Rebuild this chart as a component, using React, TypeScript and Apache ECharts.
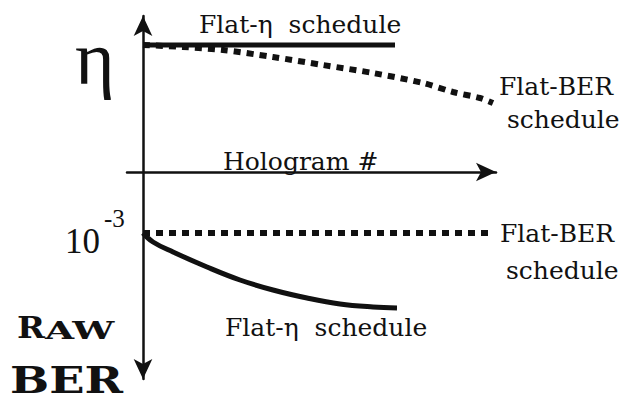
import React, { useEffect, useRef } from "react";
import * as echarts from "echarts";

// Schematic units: x = hologram index (arbitrary), y = eta above axis, raw BER below axis
const xRange = [-16, 353];
const yRange = [-207, 156];

const holoFlatEtaTop = [0, 252];
const etaFlatEta = [127, 127];

const holoFlatBerTop = [0, 40, 80, 130, 180, 230, 280, 310, 337, 350];
const etaFlatBer = [127, 125, 122, 115, 107, 99, 89, 80, 74, 69];

const holoFlatBerBottom = [0, 350];
const berFlatBer = [-61, -61];

const holoFlatEtaBottom = [0, 10, 30, 64, 97, 130, 164, 197, 230, 254];
const berFlatEta = [-61, -70, -80, -95, -108, -118, -126, -132, -135, -136];

const labelFlatEta = "Flat-\u03b7  schedule";
const labelFlatBer1 = "Flat-BER";
const labelFlatBer2 = "schedule";
const labelXAxis = "Hologram #";
const labelEta = "\u03b7";
const labelBerBase = "10";
const labelBerExp = "-3";

const INK = "#111";
const SERIF = '"DejaVu Serif", serif';

const pairs = (xs: number[], ys: number[]) => xs.map((x, i) => [x, ys[i]]);

export default function App() {
  const ref = useRef<HTMLDivElement>(null);
  useEffect(() => {
    if (!ref.current) return;
    const chart = echarts.init(ref.current, undefined, { renderer: "svg" });
    const txt = (text: string, x: number, y: number, size: number, extra: any = {}) => ({
      type: "text",
      x,
      y,
      scaleX: extra.scaleX ?? 1,
      style: {
        text,
        fontSize: size,
        fontFamily: extra.family ?? SERIF,
        fontWeight: extra.weight ?? "normal",
        fill: INK,
        align: extra.align ?? "left",
        verticalAlign: "middle",
      },
    });
    chart.setOption({
      animation: false,
      backgroundColor: "#fff",
      grid: { left: 127, right: 125, top: 16, bottom: 23 },
      xAxis: {
        type: "value",
        min: xRange[0],
        max: xRange[1],
        axisLine: {
          onZero: true,
          lineStyle: { color: INK, width: 2.5 },
          symbol: ["none", "arrow"],
          symbolSize: [14, 20],
        },
        axisTick: { show: false },
        axisLabel: { show: false },
        splitLine: { show: false },
      },
      yAxis: {
        type: "value",
        min: yRange[0],
        max: yRange[1],
        axisLine: {
          show: true,
          onZero: true,
          lineStyle: { color: INK, width: 2.5 },
          symbol: ["arrow", "arrow"],
          symbolSize: [14, 20],
        },
        axisTick: { show: false },
        axisLabel: { show: false },
        splitLine: { show: false },
      },
      series: [
        {
          name: "Flat-BER eta",
          type: "line",
          data: pairs(holoFlatBerTop, etaFlatBer),
          smooth: 0.3,
          symbol: "none",
          lineStyle: { color: INK, width: 6, type: [7, 6], cap: "butt" },
          z: 2,
        },
        {
          name: "Flat-eta eta",
          type: "line",
          data: pairs(holoFlatEtaTop, etaFlatEta),
          symbol: "none",
          lineStyle: { color: INK, width: 5, cap: "butt" },
          z: 3,
        },
        {
          name: "Flat-BER BER",
          type: "line",
          data: pairs(holoFlatBerBottom, berFlatBer),
          symbol: "none",
          lineStyle: { color: INK, width: 6, type: [7, 6], cap: "butt" },
          z: 2,
        },
        {
          name: "Flat-eta BER",
          type: "line",
          data: pairs(holoFlatEtaBottom, berFlatEta),
          smooth: 0.4,
          symbol: "none",
          lineStyle: { color: INK, width: 5, cap: "butt" },
          z: 3,
        },
      ],
      graphic: [
        txt(labelFlatEta, 199, 24, 25),
        txt(labelEta, 75, 58, 76, { family: '"Liberation Serif", serif' }),
        txt(labelFlatBer1, 499, 86, 25),
        txt(labelFlatBer2, 507, 119, 25),
        txt(labelXAxis, 223, 161, 25),
        txt(labelBerBase, 100, 241, 35, { family: '"Liberation Serif", serif', align: "right" }),
        txt(labelBerExp, 104, 218, 25, { family: '"Liberation Serif", serif' }),
        txt(labelFlatBer1, 500, 233, 25),
        txt(labelFlatBer2, 506, 270, 25),
        txt(labelFlatEta, 225, 327, 25),
        txt("R", 17, 328, 30, { weight: "bold", scaleX: 1.12 }),
        txt("AW", 45, 330, 25, { weight: "bold", scaleX: 1.5 }),
        txt("BER", 10, 380, 38, { weight: "bold", scaleX: 1.22 }),
      ],
    });
    return () => chart.dispose();
  }, []);
  return (
    <div
      ref={ref}
      style={{ position: "fixed", left: 0, top: 0, width: 621, height: 402, background: "#fff" }}
    />
  );
}
